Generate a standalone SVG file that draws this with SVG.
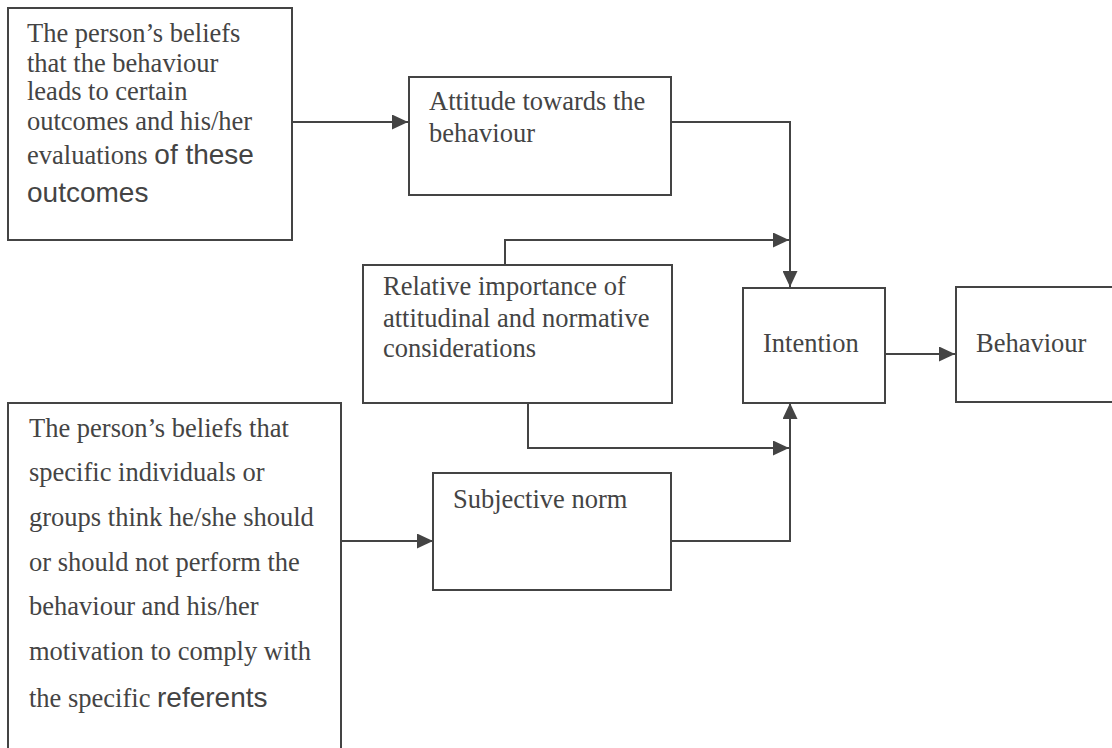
<svg xmlns="http://www.w3.org/2000/svg" width="1112" height="748" viewBox="0 0 1112 748">
<style>
.box{fill:#fff;stroke:#444;stroke-width:2}
.t{font-family:"Liberation Serif","Times New Roman",serif;font-size:26.5px;fill:#444}
.s{font-family:"Liberation Sans",Arial,sans-serif;font-size:28px;fill:#444}
.c{fill:none;stroke:#444;stroke-width:2}
</style>
<defs>
<marker id="ah" markerUnits="userSpaceOnUse" markerWidth="17" markerHeight="15" refX="16" refY="7.5" orient="auto">
<path d="M0,0 L16,7.5 L0,15 Z" fill="#444"/>
</marker>
</defs>
<rect width="1112" height="748" fill="#fff"/>
<g id="connectors">
<path class="c" d="M292,122 H408" marker-end="url(#ah)"/>
<path class="c" d="M671,122 H790 V287" marker-end="url(#ah)"/>
<path class="c" d="M505,265 V240 H789" marker-end="url(#ah)"/>
<path class="c" d="M528,403 V448 H789" marker-end="url(#ah)"/>
<path class="c" d="M341,541 H433" marker-end="url(#ah)"/>
<path class="c" d="M671,541 H790 V403" marker-end="url(#ah)"/>
<path class="c" d="M885,354 H955" marker-end="url(#ah)"/>
</g>
<g id="beliefs-outcomes">
<rect class="box" x="8" y="8" width="284" height="232"/>
<text class="t" x="27" y="42">The person’s beliefs</text>
<text class="t" x="27" y="72">that the behaviour</text>
<text class="t" x="27" y="100">leads to certain</text>
<text class="t" x="27" y="130">outcomes and his/her</text>
<text x="27" y="164"><tspan class="t">evaluations </tspan><tspan class="s">of these</tspan></text>
<text class="s" x="27" y="202">outcomes</text>
</g>
<g id="attitude">
<rect class="box" x="409" y="77" width="262" height="118"/>
<text class="t" x="429" y="110">Attitude towards the</text>
<text class="t" x="429" y="142">behaviour</text>
</g>
<g id="relative-importance">
<rect class="box" x="363" y="265" width="309" height="138"/>
<text class="t" x="383" y="295">Relative importance of</text>
<text class="t" x="383" y="327">attitudinal and normative</text>
<text class="t" x="383" y="357">considerations</text>
</g>
<g id="intention">
<rect class="box" x="743" y="288" width="142" height="115"/>
<text class="t" x="763" y="352">Intention</text>
</g>
<g id="behaviour">
<rect class="box" x="956" y="287" width="170" height="115"/>
<text class="t" x="976" y="352">Behaviour</text>
</g>
<g id="beliefs-referents">
<rect class="box" x="8" y="403" width="333" height="360"/>
<text class="t" x="29" y="437">The person’s beliefs that</text>
<text class="t" x="29" y="481">specific individuals or</text>
<text class="t" x="29" y="526">groups think he/she should</text>
<text class="t" x="29" y="571">or should not perform the</text>
<text class="t" x="29" y="615">behaviour and his/her</text>
<text class="t" x="29" y="660">motivation to comply with</text>
<text x="29" y="707"><tspan class="t">the specific </tspan><tspan class="s">referents</tspan></text>
</g>
<g id="subjective-norm">
<rect class="box" x="433" y="473" width="238" height="117"/>
<text class="t" x="453" y="508">Subjective norm</text>
</g>
</svg>
